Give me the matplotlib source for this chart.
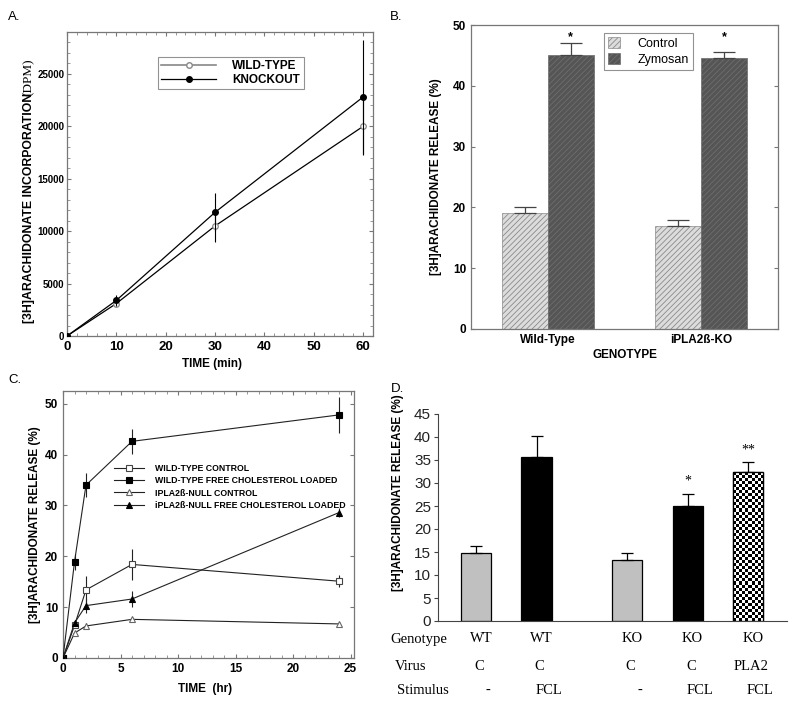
import matplotlib
matplotlib.use("Agg")
import matplotlib.pyplot as plt
import numpy as np

plt.rcParams['font.family'] = ['Liberation Sans', 'DejaVu Sans']
plt.rcParams['hatch.linewidth'] = 0.6

# ---- panel A data: incorporation over time (DPM)
a_time = [0, 10, 30, 60]
a_wt = [0, 3100, 10500, 20000]
a_wt_err = [0, 300, 1500, 2700]
a_ko = [0, 3400, 11800, 22800]
a_ko_err = [0, 500, 1800, 5400]

# ---- panel B data: release (%) by genotype
b_genotypes = ['Wild-Type', 'iPLA2ß-KO']
b_control = [19.0, 17.0]
b_control_err = [1.0, 1.0]
b_zymosan = [45.0, 44.6]
b_zymosan_err = [2.0, 1.0]

# ---- panel C data: release (%) over time (hr)
c_time = [0, 1, 2, 6, 24]
c_wt_ctrl = [0, 6.4, 13.4, 18.4, 15.1]
c_wt_ctrl_err = [0, 0.5, 2.8, 3.0, 1.2]
c_wt_fc = [0, 18.9, 34.0, 42.6, 47.8]
c_wt_fc_err = [0, 1.5, 2.4, 2.4, 3.5]
c_null_ctrl = [0, 4.9, 6.3, 7.6, 6.7]
c_null_ctrl_err = [0, 0.3, 0.5, 0.5, 0.3]
c_null_fc = [0, 6.9, 10.3, 11.6, 28.6]
c_null_fc_err = [0, 0.6, 1.5, 1.6, 0.8]
c_labels = ['WILD-TYPE CONTROL', 'WILD-TYPE FREE CHOLESTEROL LOADED',
            'IPLA2ß-NULL CONTROL', 'iPLA2ß-NULL FREE CHOLESTEROL LOADED']

# ---- panel D data
d_values = [14.8, 35.6, 13.3, 25.0, 32.3]
d_err = [1.6, 4.6, 1.5, 2.7, 2.2]
d_genotype = ['WT', 'WT', 'KO', 'KO', 'KO']
d_virus = ['C', 'C', 'C', 'C', 'PLA2']
d_stimulus = ['-', 'FCL', '-', 'FCL', 'FCL']
d_stars = ['', '', '', '*', '**']

W, H = 800, 709
fig = plt.figure(figsize=(8, 7.09), dpi=100)


def box(x0, y0, x1, y1):
    # pixel box -> figure fraction
    return [x0 / W, 1 - y1 / H, (x1 - x0) / W, (y1 - y0) / H]


def sigma_style(ax):
    for s in ax.spines.values():
        s.set_color('#777777')
        s.set_linewidth(0.9)
    ax.tick_params(direction='in', top=True, right=True, length=3, width=0.8, color='#777777')
    ax.tick_params(which='minor', direction='in', top=True, right=True, length=2, width=0.6, color='#888888')


# ================= A =================
axA = fig.add_axes(box(67, 32, 373, 336))
axA.errorbar(a_time, a_wt, yerr=a_wt_err, color='black', lw=0.9, elinewidth=0.8,
             marker='o', ms=4, mfc='white', mec='#888888', mew=0.9, capsize=0, zorder=3)
axA.errorbar(a_time, a_ko, yerr=a_ko_err, color='black', lw=0.9, elinewidth=0.8,
             marker='o', ms=4, mfc='black', mec='black', capsize=0, zorder=4)
axA.set_xlim(0, 62)
axA.set_ylim(0, 29000)
axA.set_xticks([0, 10, 20, 30, 40, 50, 60])
axA.set_yticks([0, 5000, 10000, 15000, 20000, 25000])
axA.set_xticks(np.arange(0, 62, 2), minor=True)
axA.set_yticks(np.arange(0, 29000, 1000), minor=True)
sigma_style(axA)
axA.tick_params(axis='y', pad=2)
for lab in axA.get_xticklabels():
    lab.set_fontweight('bold')
    lab.set_fontsize(9.5)
for lab in axA.get_yticklabels():
    lab.set_fontweight('bold')
    lab.set_fontsize(7)
hA1, = axA.plot([], [], color='#888888', lw=1.2, marker='o', ms=4, mfc='white', mec='#888888')
hA2, = axA.plot([], [], color='black', lw=0.9, marker='o', ms=4, mfc='black', mec='black')
legA = axA.legend([hA1, hA2], ['WILD-TYPE', 'KNOCKOUT'], loc='upper left',
                  bbox_to_anchor=(0.297, 0.918), fancybox=False, edgecolor='#777777',
                  prop={'weight': 'bold', 'size': 8.5}, handlelength=4.6, borderpad=0.3,
                  labelspacing=0.1, handletextpad=1.4, borderaxespad=0)
legA.get_frame().set_linewidth(0.8)
fig.text(212 / W, 1 - 364 / H, 'TIME (min)', ha='center', va='center', fontsize=8.5, fontweight='bold')
fig.text(29 / W, 1 - 208 / H, '[3H]ARACHIDONATE INCORPORATION', rotation=90, ha='center', va='center',
         fontsize=8.8, fontweight='bold')
fig.text(29 / W, 1 - 77 / H, '(DPM)', rotation=90, ha='center', va='center',
         fontsize=9.5, family='Liberation Serif')
fig.text(8 / W, 1 - 17 / H, 'A.', ha='left', va='center', fontsize=9.5)

# ================= B =================
axB = fig.add_axes(box(471, 25, 778, 329))
xb = np.arange(len(b_genotypes))
bw = 0.3
axB.bar(xb - bw / 2, b_control, bw, color='#dcdcdc', edgecolor='#8a8a8a', hatch='//////',
        linewidth=0.5, label='Control', zorder=2)
axB.bar(xb + bw / 2, b_zymosan, bw, color='#555555', edgecolor='#6e6e6e', hatch='//////',
        linewidth=0.5, label='Zymosan', zorder=2)
axB.errorbar(xb - bw / 2, b_control, yerr=[[0, 0], b_control_err], fmt='none', ecolor='#444444',
             elinewidth=0.9, capsize=8, capthick=0.9, zorder=3)
axB.errorbar(xb + bw / 2, b_zymosan, yerr=[[0, 0], b_zymosan_err], fmt='none', ecolor='#444444',
             elinewidth=0.9, capsize=8, capthick=0.9, zorder=3)
for xi in xb + bw / 2:
    axB.text(xi, 47.0, '*', ha='center', va='bottom', fontsize=9, fontweight='bold')
axB.set_xlim(-0.5, 1.5)
axB.set_ylim(0, 50)
axB.set_xticks(xb)
axB.set_xticklabels(b_genotypes, fontweight='bold', fontsize=8.5)
axB.set_yticks([0, 10, 20, 30, 40, 50])
sigma_style(axB)
axB.tick_params(axis='x', length=0)
for lab in axB.get_yticklabels():
    lab.set_fontweight('bold')
    lab.set_fontsize(8.5)
axB.set_xlabel('GENOTYPE', fontweight='bold', fontsize=8.5, labelpad=2)
axB.set_ylabel('[3H]ARACHIDONATE RELEASE (%)', fontweight='bold', fontsize=8.5, labelpad=8)
legB = axB.legend(loc='upper left', bbox_to_anchor=(0.433, 0.974), fancybox=False,
                  edgecolor='#777777', prop={'size': 9}, handlelength=1.0,
                  handleheight=1.0, borderpad=0.3, labelspacing=0.3, handletextpad=1.4,
                  borderaxespad=0)
legB.get_frame().set_linewidth(0.8)
fig.text(390 / W, 1 - 17 / H, 'B.', ha='left', va='center', fontsize=9.5)

# ================= C =================
axC = fig.add_axes(box(63, 391, 354, 658))
styles = [
    (c_wt_ctrl, c_wt_ctrl_err, 's', 'white', '#444444'),
    (c_wt_fc, c_wt_fc_err, 's', 'black', 'black'),
    (c_null_ctrl, c_null_ctrl_err, '^', 'white', '#666666'),
    (c_null_fc, c_null_fc_err, '^', 'black', 'black'),
]
handles = []
for (vals, errs, mk, fc, ec), lab in zip(styles, c_labels):
    axC.errorbar(c_time, vals, yerr=errs, color='#222222', lw=0.8, elinewidth=0.8, capsize=0,
                 marker=mk, ms=5, mfc=fc, mec=ec, mew=0.8, zorder=3)
    h, = axC.plot([], [], color='#222222', lw=0.8, marker=mk, ms=4, mfc=fc, mec=ec, mew=0.8)
    handles.append(h)
axC.set_xlim(0, 25.3)
axC.set_ylim(0, 52.5)
axC.set_xticks([0, 5, 10, 15, 20, 25])
axC.set_yticks([0, 10, 20, 30, 40, 50])
axC.set_xticks(np.arange(0, 25.3, 1), minor=True)
sigma_style(axC)
for lab in axC.get_xticklabels() + axC.get_yticklabels():
    lab.set_fontweight('bold')
    lab.set_fontsize(8.5)
axC.legend(handles, c_labels, loc='upper left', bbox_to_anchor=(0.175, 0.725), frameon=False,
           prop={'weight': 'bold', 'size': 6.3}, handlelength=3.4, handletextpad=1.3,
           labelspacing=0.35, borderaxespad=0, borderpad=0)
fig.text(205 / W, 1 - 689 / H, 'TIME  (hr)', ha='center', va='center', fontsize=8.5, fontweight='bold')
fig.text(35 / W, 1 - 525 / H, '[3H]ARACHIDONATE RELEASE (%)', rotation=90, ha='center', va='center',
         fontsize=8.5, fontweight='bold')
fig.text(8 / W, 1 - 380 / H, 'C.', ha='left', va='center', fontsize=9.5)

# ================= D =================
axD = fig.add_axes(box(438, 414, 787, 621))
xd = np.array([0, 1, 2.5, 3.5, 4.5])
dcolors = ['#c0c0c0', 'black', '#c0c0c0', 'black', 'white']
bars = axD.bar(xd, d_values, 0.5, color=dcolors, edgecolor='black', linewidth=0.9, zorder=2)
# checkerboard fill for the last bar
cb = bars[-1]
ncol = 10
nrow = int(round(d_values[-1] / 0.66))
checker = (np.add.outer(np.arange(nrow), np.arange(ncol)) % 2).astype(float)
im = axD.imshow(checker, cmap='gray', interpolation='nearest', aspect='auto', zorder=2.5,
                extent=[cb.get_x(), cb.get_x() + cb.get_width(), 0, d_values[-1]])
im.set_clip_path(cb)
axD.bar(xd[-1:], d_values[-1:], 0.5, color='none', edgecolor='black', linewidth=0.9, zorder=3)
axD.errorbar(xd, d_values, yerr=[[0] * 5, d_err], fmt='none', ecolor='black', elinewidth=0.9,
             capsize=4, capthick=0.9, zorder=4)
for xi, v, e, s in zip(xd, d_values, d_err, d_stars):
    if s:
        axD.text(xi, v + e + 1.3, s, ha='center', va='bottom', fontsize=10, family='Liberation Serif')
axD.set_xlim(-0.63, 5.14)
axD.set_ylim(0, 45)
axD.set_yticks(np.arange(0, 46, 5))
axD.set_xticks([])
axD.spines['top'].set_visible(False)
axD.spines['right'].set_visible(False)
axD.spines['left'].set_color('#444444')
axD.spines['bottom'].set_color('#444444')
axD.tick_params(axis='y', direction='out', length=3, color='#444444', labelsize=11, pad=2,
                labelcolor='#222222')
fig.text(398 / W, 1 - 493 / H, '[3H]ARACHIDONATE RELEASE (%)', rotation=90, ha='center', va='center',
         fontsize=8.5, fontweight='bold')
fig.text(391 / W, 1 - 389 / H, 'D.', ha='left', va='center', fontsize=9.5)
# table below panel D
row_y = [639, 667, 690]
row_names = ['Genotype', 'Virus', 'Stimulus']
row_x = [390, 395, 397]
row_shift = [0.08, 0.05, 0.2]
for rname, ry, rx, rows, sh in zip(row_names, row_y, row_x, [d_genotype, d_virus, d_stimulus], row_shift):
    fig.text(rx / W, 1 - ry / H, rname, ha='left', va='center', fontsize=10.5, family='Liberation Serif')
    for xi, t in zip(xd, rows):
        xfig = axD.transData.transform((xi + sh, 0))[0] / fig.dpi / fig.get_figwidth()
        fig.text(xfig, 1 - ry / H, t, ha='center', va='center', fontsize=10.5, family='Liberation Serif')

fig.savefig('out.png', dpi=100)
